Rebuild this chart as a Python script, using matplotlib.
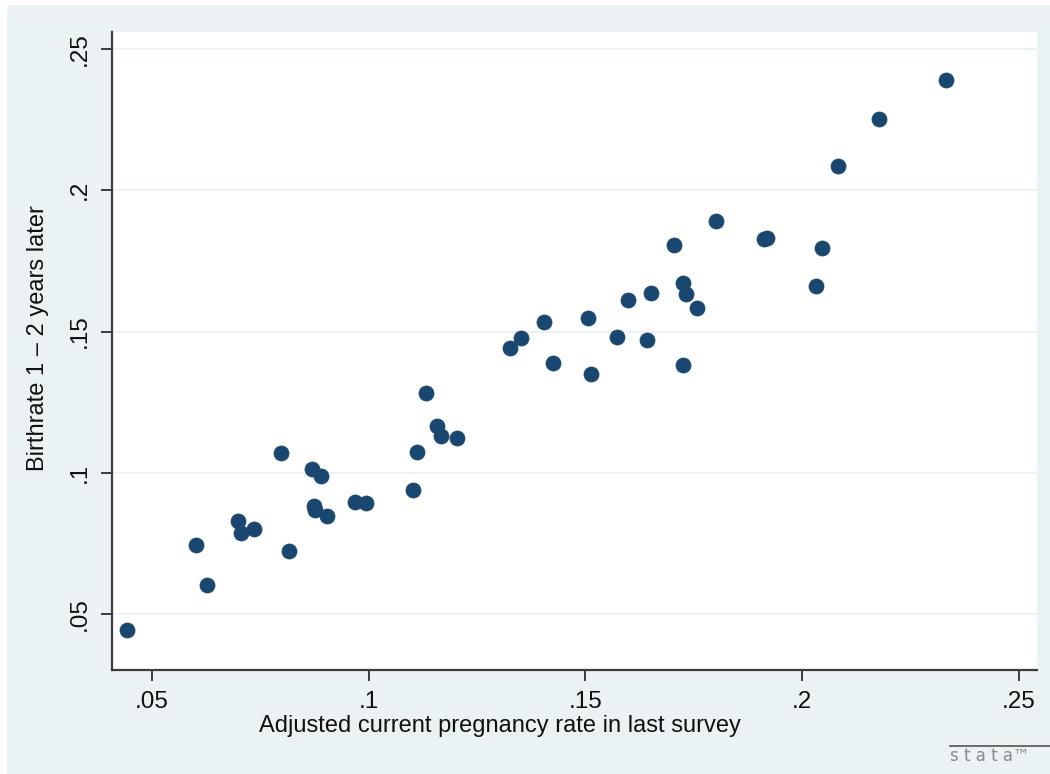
import matplotlib.pyplot as plt
from matplotlib.patches import Rectangle
from matplotlib.lines import Line2D

plt.rcParams['font.family'] = ['Liberation Sans', 'DejaVu Sans']

# adjusted current pregnancy rate in last survey
preg_rate = [0.0442, 0.0602, 0.0627, 0.0698, 0.0705, 0.0735, 0.0798, 0.0816,
             0.0869, 0.0890, 0.0874, 0.0876, 0.0904, 0.0968, 0.0994, 0.1102,
             0.1112, 0.1132, 0.1158, 0.1167, 0.1204, 0.1326, 0.1352, 0.1405,
             0.1426, 0.1507, 0.1512, 0.1574, 0.1599, 0.1642, 0.1652, 0.1705,
             0.1726, 0.1732, 0.1725, 0.1758, 0.1801, 0.1913, 0.1920, 0.2031,
             0.2046, 0.2082, 0.2178, 0.2332]
# birthrate 1-2 years later
birth_rate = [0.0443, 0.0744, 0.0603, 0.0829, 0.0787, 0.0801, 0.1070, 0.0723,
              0.1013, 0.0988, 0.0882, 0.0868, 0.0847, 0.0896, 0.0893, 0.0939,
              0.1073, 0.1282, 0.1165, 0.1130, 0.1123, 0.1441, 0.1478, 0.1532,
              0.1387, 0.1547, 0.1349, 0.1480, 0.1612, 0.1471, 0.1638, 0.1806,
              0.1670, 0.1632, 0.1380, 0.1582, 0.1891, 0.1826, 0.1832, 0.1661,
              0.1795, 0.2086, 0.2253, 0.2390]

xticks = [0.05, 0.1, 0.15, 0.2, 0.25]
xtick_labels = ['.05', '.1', '.15', '.2', '.25']
yticks = [0.05, 0.1, 0.15, 0.2, 0.25]
ytick_labels = ['.05', '.1', '.15', '.2', '.25']

bg = '#eaf2f3'
navy = '#1a476f'
axis_col = '#3c3c3c'

fig = plt.figure(figsize=(10.5, 7.74), dpi=100, facecolor='white')
# stata-style outer region
fig.patches.append(Rectangle((7 / 1050, 0), 1, 1 - 5 / 774, transform=fig.transFigure,
                             facecolor=bg, edgecolor='none', zorder=-10))

ax = fig.add_axes([112 / 1050, 1 - 670 / 774, (1037 - 112) / 1050, (670 - 32) / 774])
ax.set_facecolor('white')
ax.scatter(preg_rate, birth_rate, s=118, color=navy, edgecolors=navy,
           linewidths=0.5, zorder=3)

ax.set_xlim(0.0408, 0.2542)
ax.set_ylim(0.0302, 0.256)
ax.set_xticks(xticks)
ax.set_xticklabels(xtick_labels)
ax.set_yticks(yticks)
ax.set_yticklabels(ytick_labels, rotation=90, va='center')

ax.grid(axis='y', color=bg, linewidth=1.4, zorder=1)
ax.set_axisbelow(True)

for side in ['top', 'right']:
    ax.spines[side].set_visible(False)
for side in ['left', 'bottom']:
    ax.spines[side].set_color(axis_col)
    ax.spines[side].set_linewidth(1.6)

ax.tick_params(axis='both', direction='out', length=8, width=1.4, color=axis_col,
               labelsize=17.5, labelcolor='#111111')
ax.tick_params(axis='x', pad=7)
ax.tick_params(axis='y', pad=7)

fig.text(500 / 1050, 1 - 726 / 774, 'Adjusted current pregnancy rate in last survey',
         ha='center', va='center', fontsize=17, color='#111111')
fig.text(38 / 1050, 1 - 338 / 774, 'Birthrate 1 \u2013 2 years later', rotation=90,
         ha='center', va='center', fontsize=17, color='#111111')

# stata logo
fig.lines.append(Line2D([950 / 1050, 1.0], [1 - 746 / 774, 1 - 746 / 774],
                        transform=fig.transFigure, color='#555555', linewidth=1.2))
fig.text(950 / 1050, 1 - 756 / 774, 's t a t a\u2122', ha='left', va='center',
         fontsize=12, color='#8a8a8a', family=['DejaVu Sans'])

fig.savefig('out.png', dpi=100, facecolor='white')
